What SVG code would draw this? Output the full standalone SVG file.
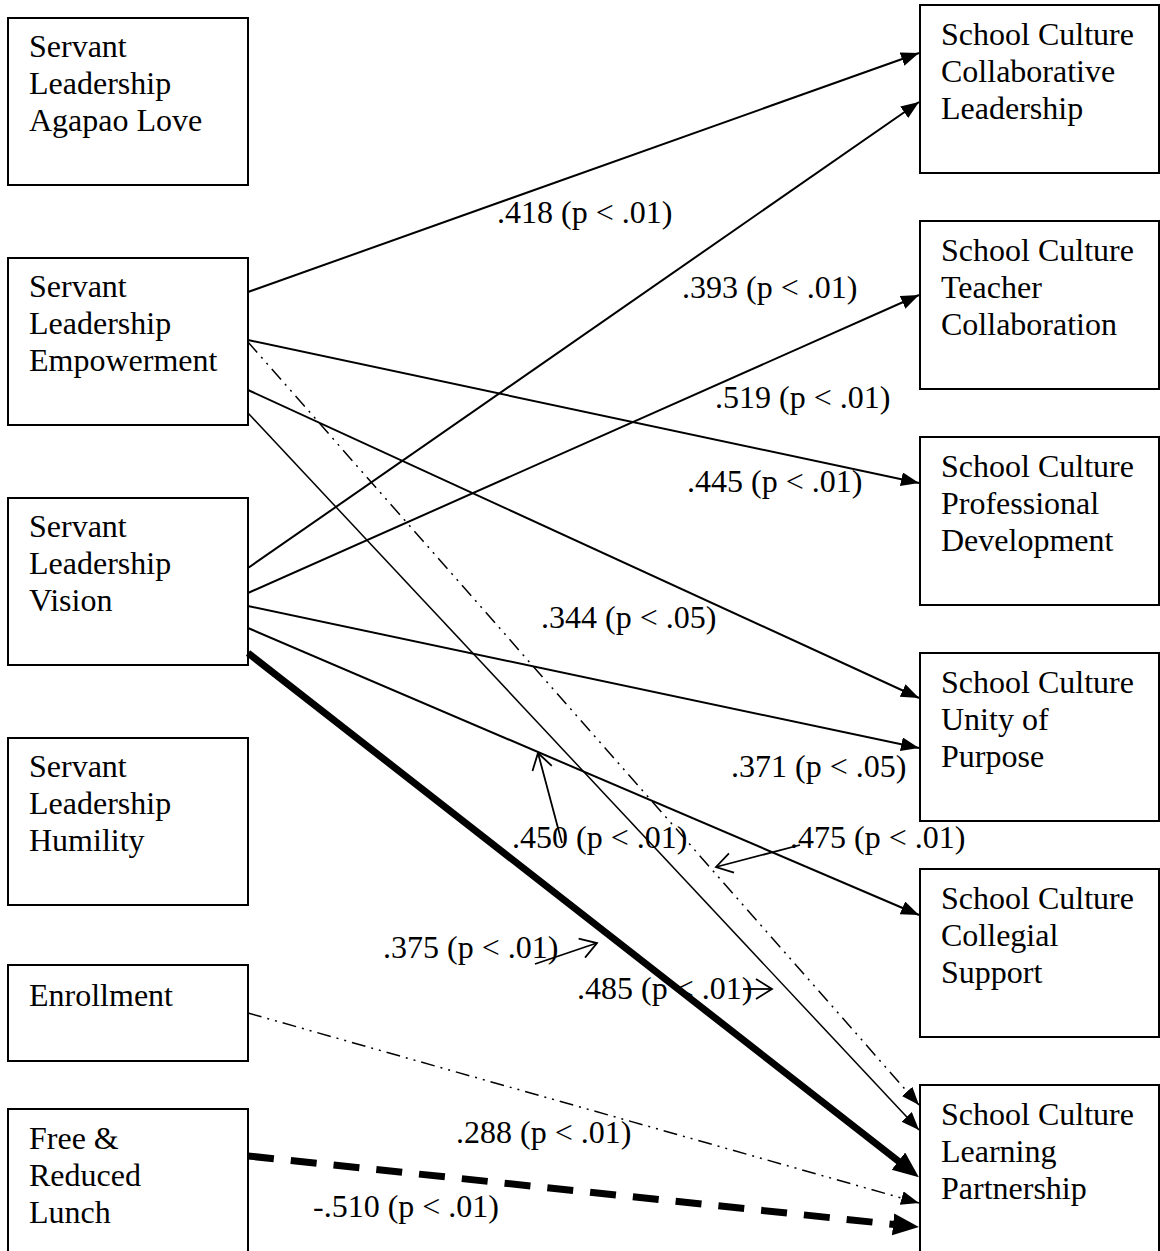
<svg xmlns="http://www.w3.org/2000/svg" width="1160" height="1251" viewBox="0 0 1160 1251">
<style>
.box{fill:#fff;stroke:#000;stroke-width:2}
.t{font-family:"Liberation Serif","Times New Roman",serif;font-size:32px;fill:#000}
.ln{fill:none;stroke:#000;stroke-width:2}
.thin{fill:none;stroke:#000;stroke-width:1.5}
.dd{fill:none;stroke:#000;stroke-width:1.5;stroke-dasharray:14 6 2 6 2 6}
.thick{fill:none;stroke:#000;stroke-width:7}
.dash{fill:none;stroke:#000;stroke-width:7;stroke-dasharray:26 17}
.lab{fill:none;stroke:#000;stroke-width:1.8}
</style>
<defs>
<marker id="ah" markerUnits="userSpaceOnUse" markerWidth="20" markerHeight="16" refX="18" refY="7" orient="auto"><path d="M0,0 L18,7 L0,14 z" fill="#000"/></marker>
<marker id="ahb" markerUnits="userSpaceOnUse" markerWidth="30" markerHeight="24" refX="16" refY="11" orient="auto"><path d="M0,0 L26,11 L0,22 z" fill="#000"/></marker>
<marker id="ao" markerUnits="userSpaceOnUse" markerWidth="20" markerHeight="24" refX="16" refY="10" orient="auto" overflow="visible"><path d="M0,0 L16,10 L0,20" fill="none" stroke="#000" stroke-width="1.8"/></marker>
</defs>

<g id="n-agapao"><rect class="box" x="8" y="18" width="240" height="167"/><text class="t" x="29" y="57">Servant</text><text class="t" x="29" y="94">Leadership</text><text class="t" x="29" y="131">Agapao Love</text></g>
<g id="n-empowerment"><rect class="box" x="8" y="258" width="240" height="167"/><text class="t" x="29" y="297">Servant</text><text class="t" x="29" y="334">Leadership</text><text class="t" x="29" y="371">Empowerment</text></g>
<g id="n-vision"><rect class="box" x="8" y="498" width="240" height="167"/><text class="t" x="29" y="537">Servant</text><text class="t" x="29" y="574">Leadership</text><text class="t" x="29" y="611">Vision</text></g>
<g id="n-humility"><rect class="box" x="8" y="738" width="240" height="167"/><text class="t" x="29" y="777">Servant</text><text class="t" x="29" y="814">Leadership</text><text class="t" x="29" y="851">Humility</text></g>
<g id="n-enrollment"><rect class="box" x="8" y="965" width="240" height="96"/><text class="t" x="29" y="1006">Enrollment</text></g>
<g id="n-lunch"><rect class="box" x="8" y="1109" width="240" height="160"/><text class="t" x="29" y="1149">Free &amp;</text><text class="t" x="29" y="1186">Reduced</text><text class="t" x="29" y="1223">Lunch</text></g>

<g id="n-collab-lead"><rect class="box" x="920" y="5" width="239" height="168"/><text class="t" x="941" y="45">School Culture</text><text class="t" x="941" y="82">Collaborative</text><text class="t" x="941" y="119">Leadership</text></g>
<g id="n-teacher"><rect class="box" x="920" y="221" width="239" height="168"/><text class="t" x="941" y="261">School Culture</text><text class="t" x="941" y="298">Teacher</text><text class="t" x="941" y="335">Collaboration</text></g>
<g id="n-profdev"><rect class="box" x="920" y="437" width="239" height="168"/><text class="t" x="941" y="477">School Culture</text><text class="t" x="941" y="514">Professional</text><text class="t" x="941" y="551">Development</text></g>
<g id="n-unity"><rect class="box" x="920" y="653" width="239" height="168"/><text class="t" x="941" y="693">School Culture</text><text class="t" x="941" y="730">Unity of</text><text class="t" x="941" y="767">Purpose</text></g>
<g id="n-collegial"><rect class="box" x="920" y="869" width="239" height="168"/><text class="t" x="941" y="909">School Culture</text><text class="t" x="941" y="946">Collegial</text><text class="t" x="941" y="983">Support</text></g>
<g id="n-learning"><rect class="box" x="920" y="1085" width="239" height="180"/><text class="t" x="941" y="1125">School Culture</text><text class="t" x="941" y="1162">Learning</text><text class="t" x="941" y="1199">Partnership</text></g>

<g id="connectors">
<line class="ln" x1="248" y1="292" x2="919" y2="53" marker-end="url(#ah)"/>
<line class="ln" x1="248" y1="340" x2="919" y2="483" marker-end="url(#ah)"/>
<line class="dd" x1="248" y1="342" x2="919" y2="1105" marker-end="url(#ah)"/>
<line class="ln" x1="248" y1="390" x2="919" y2="698" marker-end="url(#ah)"/>
<line class="thin" x1="248" y1="413" x2="919" y2="1130" marker-end="url(#ah)"/>
<line class="ln" x1="248" y1="568" x2="919" y2="102" marker-end="url(#ah)"/>
<line class="ln" x1="248" y1="593" x2="919" y2="295" marker-end="url(#ah)"/>
<line class="ln" x1="248" y1="606" x2="919" y2="748" marker-end="url(#ah)"/>
<line class="ln" x1="248" y1="628" x2="919" y2="915" marker-end="url(#ah)"/>
<line class="thick" x1="248" y1="653" x2="911" y2="1171" marker-end="url(#ahb)"/>
<line class="dd" x1="248" y1="1013" x2="919" y2="1203" marker-end="url(#ah)"/>
<line class="dash" x1="248" y1="1156" x2="909" y2="1226" marker-end="url(#ahb)"/>
<line class="lab" x1="562" y1="843" x2="538" y2="753" marker-end="url(#ao)"/>
<line class="lab" x1="800" y1="845" x2="716" y2="867" marker-end="url(#ao)"/>
<line class="lab" x1="535" y1="964" x2="597" y2="943" marker-end="url(#ao)"/>
<line class="lab" x1="743" y1="989" x2="772" y2="989" marker-end="url(#ao)"/>
</g>

<g id="labels">
<text class="t" x="497" y="223">.418 (p &lt; .01)</text>
<text class="t" x="682" y="298">.393 (p &lt; .01)</text>
<text class="t" x="715" y="408">.519 (p &lt; .01)</text>
<text class="t" x="687" y="492">.445 (p &lt; .01)</text>
<text class="t" x="541" y="628">.344 (p &lt; .05)</text>
<text class="t" x="731" y="777">.371 (p &lt; .05)</text>
<text class="t" x="512" y="848">.450 (p &lt; .01)</text>
<text class="t" x="790" y="848">.475 (p &lt; .01)</text>
<text class="t" x="383" y="958">.375 (p &lt; .01)</text>
<text class="t" x="577" y="999">.485 (p &lt; .01)</text>
<text class="t" x="456" y="1143">.288 (p &lt; .01)</text>
<text class="t" x="313" y="1217">-.510 (p &lt; .01)</text>
</g>
</svg>
